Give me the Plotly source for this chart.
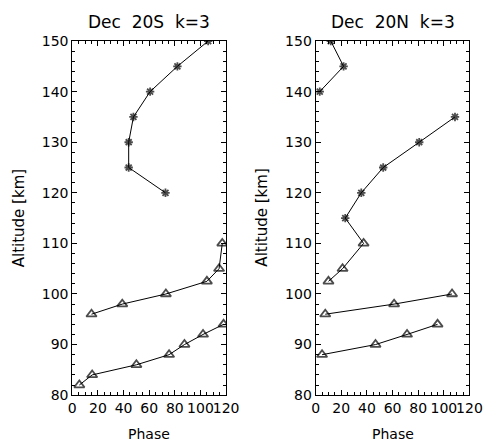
import plotly.graph_objects as go

# Phase profiles (phase vs altitude) for the two latitudes, split where the phase wraps
# --- Dec 20S ---
s_alt_a = [120, 125, 130, 135, 140, 145, 150]
s_phase_a = [72.7, 44, 44, 47.7, 60.7, 82, 106]
s_alt_b = [96, 98, 100, 102.5, 105, 110]
s_phase_b = [15, 39, 73, 105, 114.5, 117]
s_alt_c = [82, 84, 86, 88, 90, 92, 94]
s_phase_c = [5.5, 15.5, 50, 75.5, 87.5, 102, 118]

# --- Dec 20N ---
n_alt_a = [140, 145, 150]
n_phase_a = [3.2, 21.8, 11.8]
n_alt_b = [102.5, 105, 110, 115, 120, 125, 130, 135]
n_phase_b = [10, 21, 37.4, 23.1, 35.6, 52.7, 80.8, 108.7]
n_alt_c = [96, 98, 100]
n_phase_c = [7.5, 61.2, 106.4]
n_alt_d = [88, 90, 92, 94]
n_phase_d = [5, 46.7, 71.3, 95.1]

x_ticks = [0, 20, 40, 60, 80, 100, 120]
y_ticks = [80, 90, 100, 110, 120, 130, 140, 150]

titles = ["Dec\u00a0\u00a020S\u00a0\u00a0k=3", "Dec\u00a0\u00a020N\u00a0\u00a0k=3"]
x_title = "Phase"
y_title = "Altitude [km]"

W, H = 496, 442
FONT = "DejaVu Sans"


def symbols_for(alts):
    # triangles up to 110 km, asterisks above
    return ["triangle-up-open" if a <= 110 else "asterisk-open" for a in alts]


def sizes_for(alts):
    return [9 if a <= 110 else 7 for a in alts]


fig = go.Figure()

panels = [
    ("x", "y", [(s_phase_a, s_alt_a), (s_phase_b, s_alt_b), (s_phase_c, s_alt_c)]),
    ("x2", "y2", [(n_phase_a, n_alt_a), (n_phase_b, n_alt_b), (n_phase_c, n_alt_c), (n_phase_d, n_alt_d)]),
]
for xa, ya, segs in panels:
    for ph, alt in segs:
        fig.add_trace(go.Scatter(
            x=ph, y=alt, xaxis=xa, yaxis=ya, mode="lines+markers",
            line=dict(color="black", width=1),
            marker=dict(symbol=symbols_for(alt), size=sizes_for(alt), color="black",
                        line=dict(color="black", width=1.8)),
            showlegend=False,
        ))

# plot-area boxes in pixels (left, right, top, bottom)
boxes = [(70.7, 230.0, 34.3, 401.7), (322.7, 482.0, 34.3, 401.7)]

tick_font = dict(family=FONT, size=14, color="black")
common_x = dict(
    range=[0, 120], tickvals=x_ticks, ticktext=[str(v) for v in x_ticks], tickangle=0,
    ticks="inside", ticklen=5, tickwidth=1, tickcolor="black",
    minor=dict(ticks="inside", dtick=5, ticklen=3, tickwidth=1, tickcolor="black"),
    showline=True, linecolor="black", linewidth=1, mirror="allticks",
    showgrid=False, zeroline=False, fixedrange=True,
    tickfont=tick_font,
)
common_y = dict(
    range=[80, 150], tickvals=y_ticks, ticktext=[str(v) for v in y_ticks],
    ticks="inside", ticklen=5, tickwidth=1, tickcolor="black",
    minor=dict(ticks="inside", dtick=2, ticklen=3, tickwidth=1, tickcolor="black"),
    showline=True, linecolor="black", linewidth=1, mirror="allticks",
    showgrid=False, zeroline=False, fixedrange=True,
    tickfont=tick_font,
)

layout = dict(
    width=W, height=H, margin=dict(l=0, r=0, t=0, b=0),
    paper_bgcolor="white", plot_bgcolor="white",
    font=dict(family=FONT, color="black"),
)
annotations = []
for i, (l, r, t, b) in enumerate(boxes):
    sx = "" if i == 0 else str(i + 1)
    layout["xaxis" + sx] = dict(common_x, domain=[l / W, r / W], anchor="y" + sx)
    layout["yaxis" + sx] = dict(common_y, domain=[1 - b / H, 1 - t / H], anchor="x" + sx)
    cx = (l + r) / 2
    annotations.append(dict(text=titles[i], x=cx / W, y=1 - 15 / H, xref="paper", yref="paper",
                            xanchor="center", yanchor="middle", showarrow=False,
                            font=dict(family=FONT, size=17, color="black")))
    annotations.append(dict(text=x_title, x=cx / W, y=1 - 442 / H, xref="paper", yref="paper",
                            xanchor="center", yanchor="middle", showarrow=False,
                            font=dict(family=FONT, size=14, color="black")))
    annotations.append(dict(text=y_title, x=(l - 55) / W, y=1 - (t + b) / 2 / H,
                            xref="paper", yref="paper", textangle=-90,
                            xanchor="center", yanchor="middle", showarrow=False,
                            font=dict(family=FONT, size=15, color="black")))
layout["annotations"] = annotations
fig.update_layout(**layout)

fig.write_html("out.html")
